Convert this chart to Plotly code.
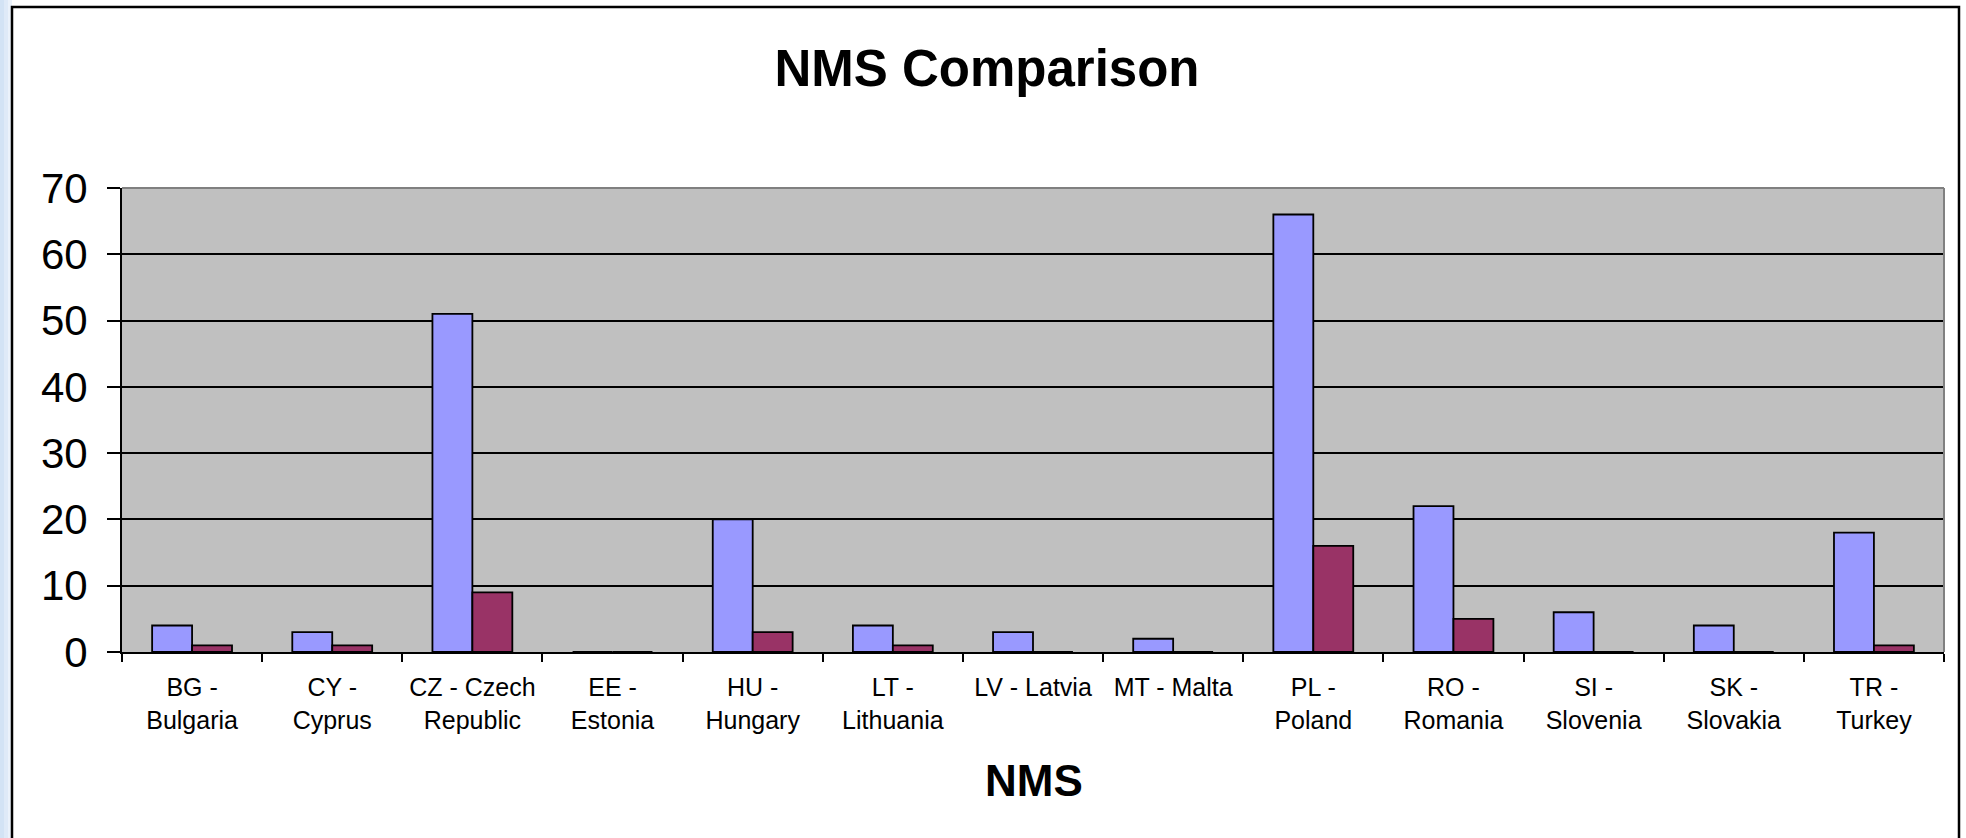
import plotly.graph_objects as go

categories = ["BG -<br>Bulgaria", "CY -<br>Cyprus", "CZ - Czech<br>Republic", "EE -<br>Estonia",
              "HU -<br>Hungary", "LT -<br>Lithuania", "LV - Latvia", "MT - Malta", "PL -<br>Poland",
              "RO -<br>Romania", "SI -<br>Slovenia", "SK -<br>Slovakia", "TR -<br>Turkey"]
series_a = [4, 3, 51, 0, 20, 4, 3, 2, 66, 22, 6, 4, 18]
series_b = [1, 1, 9, 0, 3, 1, 0, 0, 16, 5, 0, 0, 1]
y_ticks = [0, 10, 20, 30, 40, 50, 60, 70]

W, H = 1966, 838
L, R, T, B = 122, 1944, 188, 652
pw, ph = R - L, B - T

def px(x):
    return (x - L) / pw

def py(y):
    return (B - y) / ph

fig = go.Figure()
fig.add_trace(go.Bar(x=categories, y=series_a, marker=dict(color="#9999ff", line=dict(color="black", width=1.8)), name="A"))
fig.add_trace(go.Bar(x=categories, y=series_b, marker=dict(color="#993366", line=dict(color="black", width=1.8)), name="B"))

fig.update_layout(
    width=W, height=H,
    margin=dict(l=L, r=W - R, t=T, b=H - B, pad=0),
    paper_bgcolor="white", plot_bgcolor="#c0c0c0",
    showlegend=False, barmode="group", bargap=0.43, bargroupgap=0,
    font=dict(family="Liberation Sans, Arial, sans-serif", color="black"),
    title=dict(text="<b>NMS Comparison</b>", xref="container", yref="container",
               x=987 / W, y=1 - 68 / H, xanchor="center", yanchor="middle",
               font=dict(size=51, color="black")),
)
fig.update_xaxes(showline=True, linecolor="black", linewidth=2, ticks="outside", ticklen=8,
                 tickcolor="black", tickwidth=1.5, tickson="boundaries", tickangle=0,
                 tickfont=dict(size=25), ticklabelstandoff=12, showgrid=False,
                 range=[-0.5, len(categories) - 0.5], mirror=False)
fig.update_yaxes(range=[0, 70], tickvals=y_ticks, showline=True, linecolor="black", linewidth=2,
                 ticks="outside", ticklen=13, tickcolor="black", tickwidth=1.5,
                 tickfont=dict(size=42), ticklabelstandoff=11,
                 showgrid=True, gridcolor="black", gridwidth=1.5, zeroline=False)

shapes = [
    dict(type="line", xref="paper", yref="paper", x0=0, x1=1, y0=1, y1=1, line=dict(color="#808080", width=2)),
    dict(type="line", xref="paper", yref="paper", x0=1, x1=1, y0=0, y1=1, line=dict(color="#808080", width=2)),
    dict(type="rect", xref="paper", yref="paper", x0=px(-2), x1=px(4), y0=py(H + 5), y1=py(-5),
         fillcolor="#d3e3f5", line=dict(width=0), layer="below"),
    dict(type="rect", xref="paper", yref="paper", x0=px(4), x1=px(8), y0=py(H + 5), y1=py(-5),
         fillcolor="#dfeaf8", line=dict(width=0), layer="below"),
    dict(type="rect", xref="paper", yref="paper", x0=px(8), x1=px(12), y0=py(H + 5), y1=py(-5),
         fillcolor="#ebf2fb", line=dict(width=0), layer="below"),
    dict(type="rect", xref="paper", yref="paper", x0=px(12), x1=px(1959), y0=py(H + 20), y1=py(7),
         line=dict(color="black", width=2.5), fillcolor="rgba(0,0,0,0)"),
]
fig.update_layout(shapes=shapes)

fig.add_annotation(text="<b>NMS</b>", xref="paper", yref="paper", x=px(1034), y=py(780),
                   xanchor="center", yanchor="middle", showarrow=False, font=dict(size=44, color="black"))

fig.write_html("out.html", config={"displayModeBar": False},
               post_script="document.body.style.margin='0';document.body.style.overflow='hidden';")
